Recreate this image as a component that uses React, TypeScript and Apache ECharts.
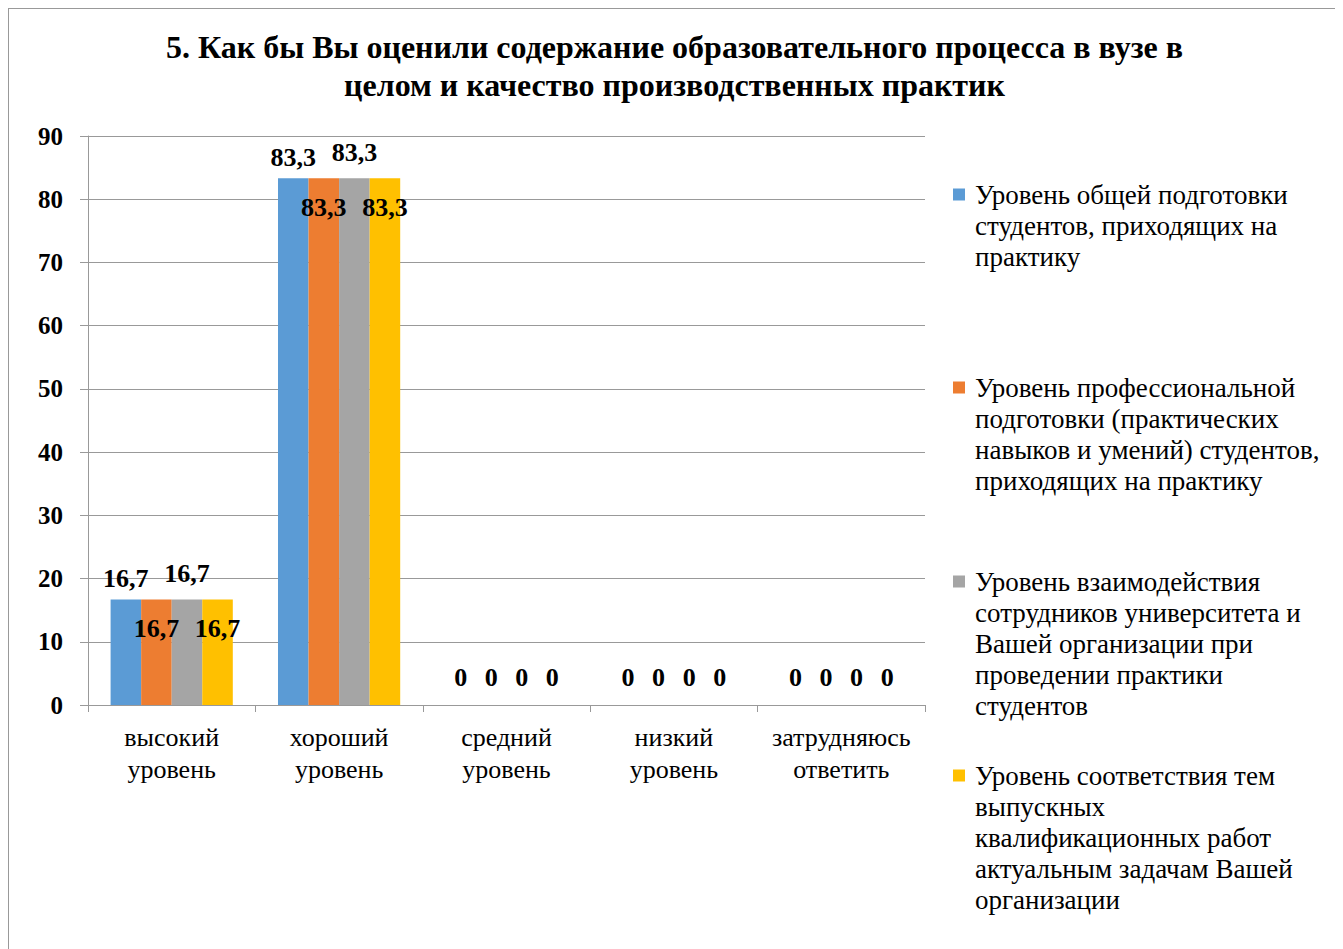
import React, { useEffect, useRef } from "react";
import * as echarts from "echarts";

const titleText = "5. Как бы Вы оценили содержание образовательного процесса в вузе в\nцелом и качество производственных практик";

const categories = ["высокий\nуровень", "хороший\nуровень", "средний\nуровень", "низкий\nуровень", "затрудняюсь\nответить"];

const seriesNames = [
  "Уровень общей подготовки студентов, приходящих на практику",
  "Уровень профессиональной подготовки (практических навыков и умений) студентов, приходящих на практику",
  "Уровень взаимодействия сотрудников университета и Вашей организации при проведении практики студентов",
  "Уровень соответствия тем выпускных квалификационных работ актуальным задачам Вашей организации",
];

const legendLines = [
  ["Уровень общей подготовки", "студентов, приходящих на", "практику"],
  ["Уровень профессиональной", "подготовки (практических", "навыков и умений) студентов,", "приходящих на практику"],
  ["Уровень взаимодействия", "сотрудников университета и", "Вашей организации при", "проведении практики", "студентов"],
  ["Уровень соответствия тем", "выпускных", "квалификационных работ", "актуальным задачам Вашей", "организации"],
];

const values1 = [16.7, 83.3, 0, 0, 0];
const values2 = [16.7, 83.3, 0, 0, 0];
const values3 = [16.7, 83.3, 0, 0, 0];
const values4 = [16.7, 83.3, 0, 0, 0];

const yTicks = { min: 0, max: 90, interval: 10 };

const colors = ["#5B9BD5", "#ED7D31", "#A5A5A5", "#FFC000"];

const FONT = "Liberation Serif";

export default function App() {
  const ref = useRef<HTMLDivElement>(null);

  useEffect(() => {
    if (!ref.current) return;
    const chart = echarts.init(ref.current, null, { renderer: "svg" });
    const allValues = [values1, values2, values3, values4];
    const labelDist = [8, 16, 13, 16];
    const labelPos = ["top", "insideTop", "top", "insideTop"];
    const legendTops = [172, 365, 559, 753];

    const series = allValues.map((vals, i) => ({
      name: seriesNames[i],
      type: "bar",
      barGap: "0%",
      barCategoryGap: "27%",
      itemStyle: { color: colors[i] },
      label: {
        show: true,
        position: labelPos[i],
        distance: labelDist[i],
        fontFamily: FONT,
        fontWeight: "bold",
        fontSize: 26,
        color: "#000",
        formatter: (p: any) => String(p.value).replace(".", ","),
      },
      data: vals.map((v) =>
        v === 0 ? { value: v, label: { position: "top", distance: 15 } } : { value: v }
      ),
    }));

    const rich: any = {
      t: { fontFamily: FONT, fontSize: 27, lineHeight: 31, color: "#000" },
      s: { width: 10 },
      p: { width: 22 },
    };
    colors.forEach((c, i) => {
      rich["m" + i] = { width: 12, height: 12, backgroundColor: c };
    });

    const legends = seriesNames.map((name, i) => ({
      data: [name],
      left: 939,
      top: legendTops[i],
      icon: "none",
      itemWidth: 0,
      itemHeight: 12,
      itemGap: 0,
      padding: 0,
      selectedMode: false,
      textStyle: { rich, fontFamily: FONT, fontSize: 27 },
      formatter: () =>
        legendLines[i]
          .map((l, j) => (j === 0 ? `{m${i}|}{s|}{t|${l}}` : `{p|}{t|${l}}`))
          .join("\n"),
    }));

    chart.setOption({
      animation: false,
      backgroundColor: "#fff",
      title: {
        text: titleText,
        left: "center",
        top: 14,
        textStyle: {
          fontFamily: FONT,
          fontWeight: "bold",
          fontSize: 32,
          lineHeight: 38,
          color: "#000",
        },
      },
      legend: legends,
      grid: { left: 79, right: 415, top: 127, bottom: 264, containLabel: false },
      xAxis: {
        type: "category",
        data: categories,
        axisLine: { lineStyle: { color: "#999", width: 1 } },
        axisTick: { show: true, length: 7, lineStyle: { color: "#999" }, alignWithLabel: false },
        axisLabel: {
          fontFamily: FONT,
          fontSize: 26,
          lineHeight: 32,
          color: "#000",
          margin: 16,
          interval: 0,
        },
      },
      yAxis: {
        type: "value",
        min: yTicks.min,
        max: yTicks.max,
        interval: yTicks.interval,
        axisLine: { show: true, lineStyle: { color: "#999", width: 1 } },
        axisTick: { show: true, length: 8, lineStyle: { color: "#999" } },
        splitLine: { show: true, lineStyle: { color: "#999", width: 1 } },
        axisLabel: {
          fontFamily: FONT,
          fontWeight: "bold",
          fontSize: 25,
          color: "#000",
          margin: 25,
        },
      },
      series,
    });
    return () => chart.dispose();
  }, []);

  return (
    <div style={{ width: 1333, height: 962, border: "1px solid #999", boxSizing: "border-box" }}>
      <div ref={ref} style={{ width: 1331, height: 960 }} />
    </div>
  );
}
